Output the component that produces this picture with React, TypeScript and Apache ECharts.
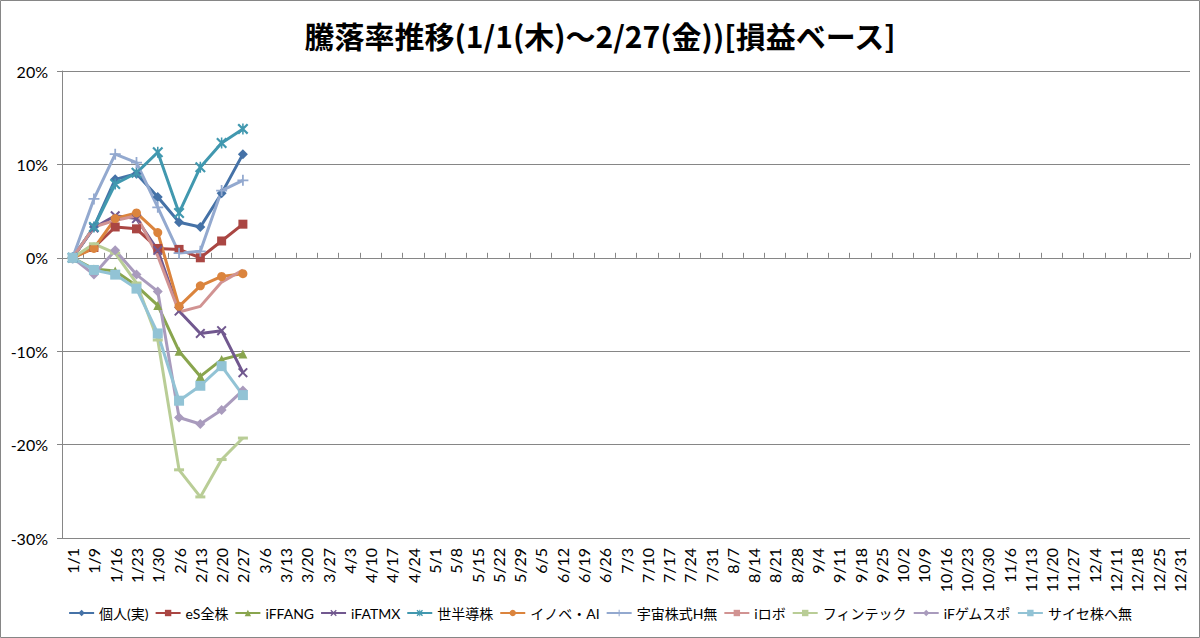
import React, { useEffect, useRef } from "react";
import * as echarts from "echarts";

const categories = [
  "1/1", "1/9", "1/16", "1/23", "1/30", "2/6", "2/13", "2/20", "2/27",
  "3/6", "3/13", "3/20", "3/27", "4/3", "4/10", "4/17", "4/24", "5/1",
  "5/8", "5/15", "5/22", "5/29", "6/5", "6/12", "6/19", "6/26", "7/3",
  "7/10", "7/17", "7/24", "7/31", "8/7", "8/14", "8/21", "8/28", "9/4",
  "9/11", "9/18", "9/25", "10/2", "10/9", "10/16", "10/23", "10/30", "11/6",
  "11/13", "11/20", "11/27", "12/4", "12/11", "12/18", "12/25", "12/31",
];

const yTicks = [-30, -20, -10, 0, 10, 20];

const kojin = [0, 3.3, 8.4, 9.0, 6.5, 3.8, 3.3, 6.9, 11.1];
const esZenkabu = [0, 1.1, 3.3, 3.1, 1.0, 0.9, 0.0, 1.8, 3.6];
const ifFang = [0, -1.2, -1.4, -3.0, -5.1, -10.0, -12.7, -10.9, -10.3];
const ifAtmx = [0, 3.2, 4.5, 4.2, 0.8, -5.7, -8.1, -7.8, -12.3];
const sekaiHandotai = [0, 3.3, 7.9, 9.1, 11.3, 4.8, 9.7, 12.3, 13.8];
const innoveAi = [0, 1.0, 4.2, 4.8, 2.7, -5.2, -3.0, -2.0, -1.7];
const uchu = [0, 6.3, 11.1, 10.2, 5.4, 0.5, 0.7, 7.2, 8.3];
const iRobo = [0, 3.3, 4.0, 4.5, 0.2, -5.8, -5.2, -2.6, -1.3];
const fintech = [0, 1.5, 0.5, -2.7, -8.8, -22.7, -25.6, -21.6, -19.3];
const ifGameSports = [0, -1.8, 0.8, -1.8, -3.6, -17.1, -17.8, -16.3, -14.2];
const cyber = [0, -1.3, -1.8, -3.3, -8.1, -15.3, -13.7, -11.6, -14.7];

const seriesNames = [
  "個人(実)", "eS全株", "iFFANG", "iFATMX", "世半導株", "イノベ・AI",
  "宇宙株式H無", "iロボ", "フィンテック", "iFゲムスポ", "サイセ株へ無",
];

const TITLE = "騰落率推移(1/1(木)～2/27(金))[損益ベース]";

const X_PATH =
  "path://M0,1.4 L1.4,0 L5,3.6 L8.6,0 L10,1.4 L6.4,5 L10,8.6 L8.6,10 L5,6.4 L1.4,10 L0,8.6 L3.6,5 Z";
const ASTERISK_PATH =
  "path://M0,1.4 L1.4,0 L5,3.6 L8.6,0 L10,1.4 L6.4,5 L10,8.6 L8.6,10 L5,6.4 L1.4,10 L0,8.6 L3.6,5 Z M4.3,0 L5.7,0 L5.7,10 L4.3,10 Z";
const PLUS_PATH =
  "path://M4.2,0 L5.8,0 L5.8,4.2 L10,4.2 L10,5.8 L5.8,5.8 L5.8,10 L4.2,10 L4.2,5.8 L0,5.8 L0,4.2 L4.2,4.2 Z";
const DASH_PATH = "path://M0,0 L10,0 L10,2 L0,2 Z";

export default function App() {
  const ref = useRef<HTMLDivElement>(null);

  useEffect(() => {
    if (!ref.current) return;
    const chart = echarts.init(ref.current, undefined, { renderer: "svg" });
    const font = "Lato, 'Noto Sans CJK JP', sans-serif";
    const dataSets = [
      kojin, esZenkabu, ifFang, ifAtmx, sekaiHandotai, innoveAi,
      uchu, iRobo, fintech, ifGameSports, cyber,
    ];
    const colors = [
      "#4572A7", "#AA4643", "#89A54E", "#71588F", "#4198AF", "#DB843D",
      "#93A9CF", "#D19392", "#B9CD96", "#A99BBD", "#92C3D5",
    ];
    const symbols: any[] = [
      "diamond", "rect", "triangle", X_PATH, ASTERISK_PATH, "circle",
      PLUS_PATH, DASH_PATH, DASH_PATH, "diamond", "rect",
    ];
    const sizes: any[] = [10, 9, 9, 10, 11, 9, 11, [10, 3], [10, 3], 10, 10];
    const showSym = [true, true, true, true, true, true, true, false, true, true, true];

    const series = dataSets.map((d, i) => ({
      name: seriesNames[i],
      type: "line",
      xAxisIndex: 0,
      yAxisIndex: 0,
      data: d,
      symbol: symbols[i],
      symbolSize: sizes[i],
      showSymbol: showSym[i],
      lineStyle: { color: colors[i], width: 3 },
      itemStyle: { color: colors[i] },
      emphasis: { disabled: true },
    }));

    chart.setOption({
      animation: false,
      backgroundColor: "#ffffff",
      title: {
        text: TITLE,
        left: "center",
        top: 15,
        textStyle: {
          fontSize: 30,
          fontWeight: "bold",
          color: "#000",
          fontFamily: "'Noto Sans CJK JP', sans-serif",
        },
      },
      legend: {
        bottom: 13,
        left: "center",
        itemWidth: 25,
        itemHeight: 8,
        itemGap: 6,
        textStyle: { fontSize: 14, color: "#000", fontFamily: font },
        data: seriesNames,
      },
      grid: { left: 62, right: 10, top: 71, bottom: 100, containLabel: false },
      xAxis: [
        {
          type: "category",
          data: categories,
          position: "bottom",
          boundaryGap: true,
          axisLine: { show: false, onZero: false },
          axisTick: { show: false },
          axisLabel: {
            rotate: 90,
            interval: 0,
            fontSize: 16,
            color: "#000",
            fontFamily: font,
            margin: 10,
          },
          splitLine: { show: false },
        },
        {
          type: "category",
          data: categories,
          boundaryGap: true,
          axisLine: { show: true, onZero: true, lineStyle: { color: "#868686", width: 1 } },
          axisTick: { show: true, length: 5, interval: 0, lineStyle: { color: "#868686" } },
          axisLabel: { show: false },
          splitLine: { show: false },
        },
      ],
      yAxis: {
        type: "value",
        min: yTicks[0],
        max: yTicks[yTicks.length - 1],
        interval: 10,
        axisLine: { show: true, lineStyle: { color: "#868686", width: 1 } },
        axisTick: { show: true, length: 5, lineStyle: { color: "#868686" } },
        axisLabel: {
          formatter: "{value}%",
          fontSize: 16,
          color: "#000",
          fontFamily: font,
          margin: 14,
        },
        splitLine: { show: true, lineStyle: { color: "#868686", width: 1 } },
      },
      graphic: [
        {
          type: "rect",
          shape: { x: 0.5, y: 0.5, width: 1199, height: 637 },
          style: { fill: "none", stroke: "#868686", lineWidth: 1 },
          silent: true,
          z: 100,
        },
      ],
      series,
    });

    return () => chart.dispose();
  }, []);

  return (
    <div
      ref={ref}
      style={{ position: "fixed", left: 0, top: 0, width: 1200, height: 638 }}
    />
  );
}
